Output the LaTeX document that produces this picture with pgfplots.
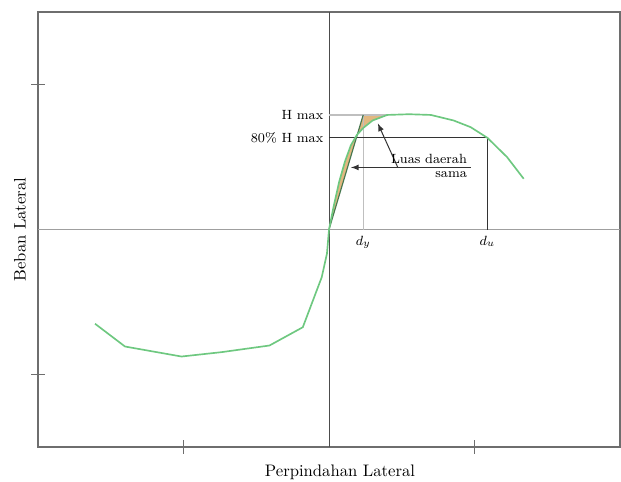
\documentclass[border=0pt]{standalone}
\usepackage{pgfplots}
\pgfplotsset{compat=1.18}
\definecolor{curvegreen}{RGB}{110,200,128}
\definecolor{linegreen}{RGB}{70,120,80}
\definecolor{fillorange}{RGB}{226,184,128}
\definecolor{boxgray}{RGB}{110,110,110}
\begin{document}
\begin{tikzpicture}
\begin{axis}[
  scale only axis,
  width=349.2pt, height=261pt,
  xmin=-2, xmax=2, ymin=-1.5, ymax=1.5,
  axis line style={boxgray, line width=0.9pt},
  xtick={-1,1}, ytick={-1,1},
  xticklabels={}, yticklabels={},
  xtick pos=bottom, ytick pos=left,
  tick align=center,
  major tick length=8pt,
  tick style={boxgray, line width=0.7pt},
  clip=false,
  xlabel={Perpindahan Lateral},
  ylabel={Beban Lateral},
  every axis x label/.style={at={(axis description cs:0.519,0)}, anchor=center, yshift=-15pt},
  every axis y label/.style={at={([xshift=-10.8pt]axis description cs:0,0.5)}, anchor=center, rotate=90},
]
% zero axes
\addplot[gray!75, line width=0.9pt] coordinates {(-2,0) (2,0)};
\addplot[black!70, line width=0.6pt] coordinates {(0,-1.5) (0,1.5)};
% shaded equal-area regions
\addplot[fill=fillorange, draw=none] coordinates {
 (0,0) (0.03,0.15) (0.07,0.33) (0.11,0.47) (0.15,0.58) (0.19,0.65)
 (0.235,0.70) (0.30,0.752) (0.40,0.79) (0.235,0.79) (0,0)};
% reference lines
\addplot[gray!50, line width=0.8pt] coordinates {(0,0.79) (0.40,0.79)};
\addplot[gray!50, line width=0.8pt] coordinates {(0.235,0.79) (0.235,0)};
\addplot[black!80, line width=0.7pt] coordinates {(0,0.632) (1.089,0.632) (1.089,0)};
% idealized line
\addplot[linegreen, line width=0.7pt] coordinates {(0,0) (0.235,0.79)};
% load-displacement curve
\addplot[curvegreen, line width=1pt] coordinates {
 (-1.608,-0.650) (-1.402,-0.807) (-1.014,-0.876) (-0.740,-0.846)
 (-0.409,-0.800) (-0.180,-0.674) (-0.050,-0.329) (-0.014,-0.166)
 (0,0) (0.03,0.15) (0.07,0.33) (0.11,0.47) (0.15,0.58) (0.19,0.65)
 (0.235,0.70) (0.30,0.752) (0.40,0.79) (0.55,0.795) (0.70,0.79)
 (0.856,0.752) (0.973,0.706) (1.089,0.632) (1.224,0.499) (1.338,0.350)};
% annotations
\node[anchor=east, font=\footnotesize, inner sep=1.5pt] at (axis cs:-0.02,0.79) {H max};
\node[anchor=east, font=\footnotesize, inner sep=1.5pt] at (axis cs:-0.02,0.632) {80\% H max};
\node[anchor=north, font=\footnotesize, inner sep=2pt] at (axis cs:0.235,-0.02) {$d_y$};
\node[anchor=north, font=\footnotesize, inner sep=2pt] at (axis cs:1.089,-0.02) {$d_u$};
\draw[black!80, line width=0.6pt, -latex] (axis cs:0.973,0.428) -- (axis cs:0.151,0.428);
\draw[black!80, line width=0.6pt, -latex] (axis cs:0.473,0.428) -- (axis cs:0.336,0.731);
\node[anchor=south east, font=\footnotesize, inner sep=2pt] at (axis cs:0.973,0.428) {Luas daerah};
\node[anchor=north east, font=\footnotesize, inner sep=2pt] at (axis cs:0.973,0.428) {sama};
\coordinate (SW) at (rel axis cs:0,0);
\coordinate (NE) at (rel axis cs:1,1);
\end{axis}
\pgfresetboundingbox
\path[use as bounding box] ([shift={(-22.8pt,-20.4pt)}]SW) rectangle ([shift={(0.6pt,7.2pt)}]NE);
\end{tikzpicture}
\end{document}
